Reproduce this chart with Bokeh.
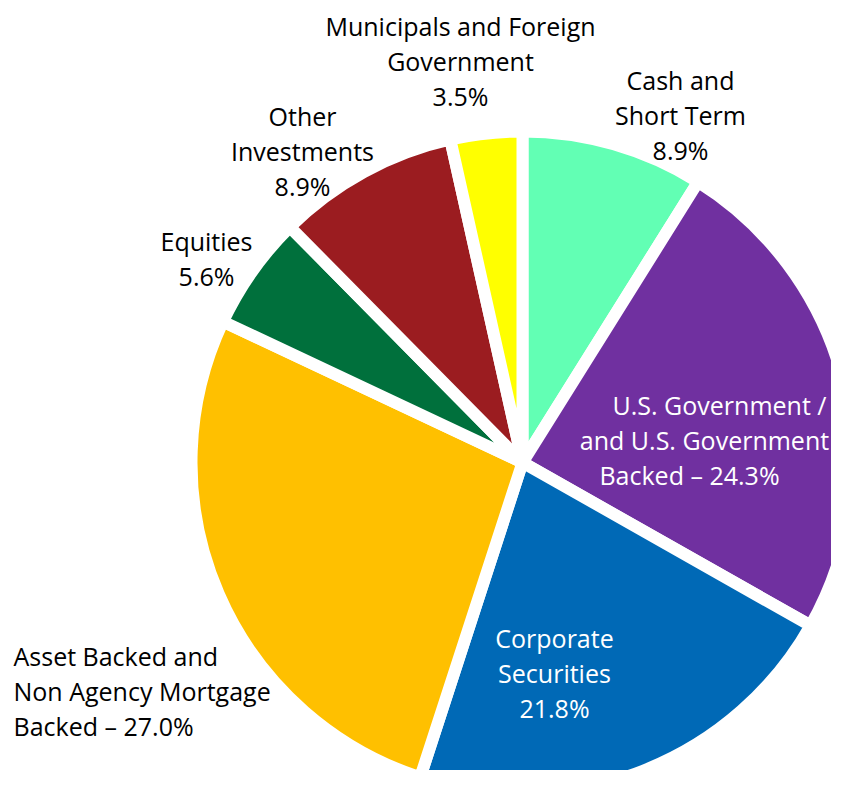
import math
from bokeh.plotting import figure
from bokeh.models import Range1d, ColumnDataSource
from bokeh.core.properties import value
from bokeh.embed import file_html
from bokeh.resources import INLINE

# ---- data ----
categories = ["Cash and Short Term", "U.S. Government / and U.S. Government Backed",
              "Corporate Securities", "Asset Backed and Non Agency Mortgage Backed",
              "Equities", "Other Investments", "Municipals and Foreign Government"]
shares = [8.9, 24.3, 21.8, 27.0, 5.6, 8.9, 3.5]
colors = ["#62FFB4", "#7030A0", "#0069B6", "#FFC000", "#00703C", "#9B1C20", "#FFFF00"]
label_lines = [
    ["Cash and", "Short Term", "8.9%"],
    ["U.S. Government /", "and U.S. Government", "Backed \u2013 24.3%"],
    ["Corporate", "Securities", "21.8%"],
    ["Asset Backed and", "Non Agency Mortgage", "Backed \u2013 27.0%"],
    ["Equities", "5.6%"],
    ["Other", "Investments", "8.9%"],
    ["Municipals and Foreign", "Government", "3.5%"],
]

# ---- layout (page pixel coordinates) ----
W, H = 831, 770
PAGE_H = 786
CX, CY, R = 522, 462, 331
FONT = "Open Sans"
FS = "25px"
LINE_STEP = 35
TEXT_DY = -8
# (anchor x, first baseline y, align, colour) per category
label_layout = [
    (680, 87, "center", "black"),
    (None, 412, "center", "white"),
    (554, 645, "center", "white"),
    (13, 663, "left", "black"),
    (206, 248, "center", "black"),
    (302, 123, "center", "black"),
    (460, 33, "center", "black"),
]
usgov_centers = [719, 704, 689]

def fy(sy):
    return PAGE_H - sy

p = figure(width=W, height=H, output_backend="svg", toolbar_location=None,
           x_range=Range1d(0, W), y_range=Range1d(PAGE_H - H, PAGE_H),
           min_border=0, min_border_left=0, min_border_right=0,
           min_border_top=0, min_border_bottom=0)
p.axis.visible = False
p.grid.visible = False
p.outline_line_color = None
p.background_fill_color = "white"
p.border_fill_color = "white"

total = sum(shares)
starts, ends = [], []
cum = 0.0
for s in shares:
    starts.append(math.pi / 2 - 2 * math.pi * cum / total)
    cum += s
    ends.append(math.pi / 2 - 2 * math.pi * cum / total)

src = ColumnDataSource(dict(x=[CX] * len(shares), y=[fy(CY)] * len(shares),
                            start=starts, end=ends, color=colors, cat=categories))
p.wedge(x="x", y="y", radius=R, start_angle="start", end_angle="end",
        direction="clock", fill_color="color", line_color="white",
        line_width=12, source=src)

for i, lines in enumerate(label_lines):
    ax, by, align, col = label_layout[i]
    xs, ys = [], []
    for j, t in enumerate(lines):
        xs.append(usgov_centers[j] if ax is None else ax)
        ys.append(fy(by + TEXT_DY + j * LINE_STEP))
    p.text(x=xs, y=ys, text=lines, text_align=align, text_baseline="alphabetic",
           text_font=value(FONT), text_font_size=FS, text_color=col)

open("out.html", "w").write(file_html(p, INLINE))
